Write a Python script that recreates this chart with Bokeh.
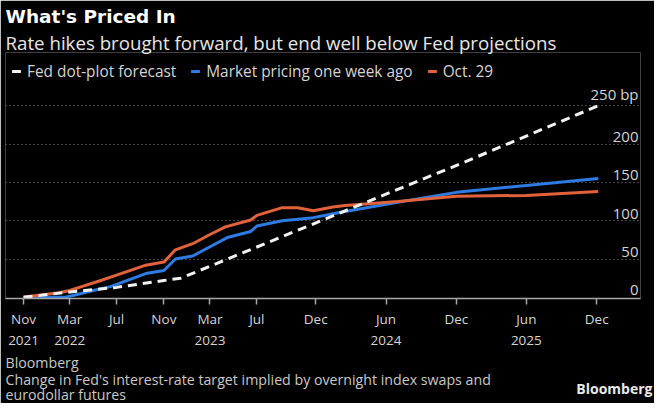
import pandas as pd
from bokeh.plotting import figure
from bokeh.models import (Title, Legend, LegendItem, FixedTicker, Range1d,
                          ColumnDataSource)
from bokeh.core.properties import value
from bokeh.embed import file_html
from bokeh.resources import INLINE

# ---------------- data ----------------
fed_dates = ["2021-11-01", "2022-03-01", "2022-07-01", "2022-11-01", "2022-12-15",
             "2023-12-15", "2024-12-15", "2025-12-05"]
fed_vals = [0, 7, 13, 22, 25, 100, 175, 250]

week_ago_dates = ["2021-11-01", "2022-02-15", "2022-03-15", "2022-05-01", "2022-06-15",
                  "2022-09-15", "2022-11-01", "2022-12-01", "2023-01-15", "2023-03-01",
                  "2023-04-15", "2023-06-15", "2023-07-01", "2023-09-05", "2023-11-25",
                  "2024-01-25", "2024-07-01", "2024-12-01", "2025-06-01", "2025-12-05"]
week_ago_vals = [0, 0, 3, 9, 14, 31, 35, 50, 54, 66, 78, 86, 93, 100, 104,
                 110, 124, 137, 146, 155]

oct29_dates = ["2021-11-01", "2021-12-15", "2022-02-01", "2022-03-01", "2022-04-01",
               "2022-05-15", "2022-07-01", "2022-09-15", "2022-11-01", "2022-12-01",
               "2023-01-15", "2023-03-01", "2023-04-10", "2023-06-15", "2023-07-01",
               "2023-09-05", "2023-10-15", "2023-11-25", "2024-01-15", "2024-02-15",
               "2024-07-01", "2024-12-01", "2025-06-01", "2025-12-05"]
oct29_vals = [0, 3, 6, 9, 14, 21, 29, 42, 46, 62, 70, 82, 92, 101, 107,
              117, 117, 113, 118, 120, 125, 132, 133, 138]

x_tick_dates = ["2021-11-01", "2022-03-01", "2022-07-01", "2022-11-01", "2023-03-01",
                "2023-07-01", "2023-12-01", "2024-06-01", "2024-12-01", "2025-06-01",
                "2025-12-01"]
x_tick_labels = ["Nov\n2021", "Mar\n2022", "Jul", "Nov", "Mar\n2023", "Jul", "Dec",
                 "Jun\n2024", "Dec", "Jun\n2025", "Dec"]

y_ticks = [0, 50, 100, 150, 200, 250]
y_tick_labels = ["0", "50", "100", "150", "200", "250 bp"]

series_names = ["Fed dot-plot forecast", "Market pricing one week ago", "Oct. 29"]

title_text = "What's Priced In"
subtitle_text = "Rate hikes brought forward, but end well below Fed projections"
source_lines = ["Bloomberg",
                "Change in Fed's interest-rate target implied by overnight index swaps and",
                "eurodollar futures"]
logo_text = "Bloomberg"

# ---------------- styling ----------------
FONT = "Open Sans"
TXT = "#d4d4d4"
BLUE = "#2d7be3"
ORANGE = "#e2623b"
WHITE = "#f2f2f2"


def ms(d):
    return int(pd.Timestamp(d).value // 10**6)


x_start = pd.Timestamp("2021-09-15")
x_end = pd.Timestamp("2026-03-25")

p = figure(width=654, height=403, output_backend="svg", toolbar_location=None,
           x_axis_type="datetime",
           x_range=Range1d(x_start, x_end), y_range=Range1d(-1.5, 319.5),
           background_fill_color="black", border_fill_color="black",
           outline_line_color=None, min_border_left=5, min_border_right=14,
           min_border_top=0, min_border_bottom=0)
p.title.visible = False
p.extra_y_ranges = {"icons": Range1d(5000, 6000)}

fed_src = ColumnDataSource(dict(x=pd.to_datetime(fed_dates), y=fed_vals))
wk_src = ColumnDataSource(dict(x=pd.to_datetime(week_ago_dates), y=week_ago_vals))
oc_src = ColumnDataSource(dict(x=pd.to_datetime(oct29_dates), y=oct29_vals))

# lines
p.line("x", "y", source=wk_src, line_color=BLUE, line_width=3)
p.line("x", "y", source=oc_src, line_color=ORANGE, line_width=3)
p.line("x", "y", source=fed_src, line_color=WHITE, line_width=3, line_dash="9 6")

# grid
p.xgrid.visible = False
p.ygrid.ticker = FixedTicker(ticks=y_ticks[1:])
p.ygrid.grid_line_color = "#8a8a8a"
p.ygrid.grid_line_dash = "1 3"
p.ygrid.grid_line_width = 1

# y axis hidden; labels drawn inside the frame above each grid line
p.yaxis.visible = False
ysrc = ColumnDataSource(dict(x=[x_end] * len(y_ticks), y=y_ticks, t=y_tick_labels))
p.text(x="x", y="y", text="t", source=ysrc, text_align="right", text_baseline="bottom",
       x_offset=-2, y_offset=-2, text_color=TXT, text_font_size="15px",
       text_font=value(FONT))

# x axis
tick_ms = [ms(d) for d in x_tick_dates]
p.xaxis.ticker = FixedTicker(ticks=tick_ms)
p.xaxis.major_label_overrides = {t: l for t, l in zip(tick_ms, x_tick_labels)}
p.xaxis.axis_line_color = "#a8a8a8"
p.xaxis.axis_line_width = 1.5
p.xaxis.major_tick_line_color = "#a8a8a8"
p.xaxis.major_tick_line_width = 1.5
p.xaxis.major_tick_in = 0
p.xaxis.major_tick_out = 6
p.xaxis.minor_tick_line_color = None
p.xaxis.major_label_text_color = TXT
p.xaxis.major_label_text_font = FONT
p.xaxis.major_label_text_font_size = "13.5px"
p.xaxis.major_label_standoff = 5

# legend with slash icons: marker renderers mapped onto a range far off the frame
icons = []
for src, col in [(fed_src, WHITE), (wk_src, BLUE), (oc_src, ORANGE)]:
    r = p.scatter("x", "y", source=src, y_range_name="icons",
                  marker="dash", angle=1.05, size=12, line_color=col, line_width=3)
    icons.append(r)
legend = Legend(items=[LegendItem(label=n, renderers=[r]) for n, r in zip(series_names, icons)],
                orientation="horizontal", location="top_left",
                background_fill_alpha=0, border_line_color=None,
                label_text_color=TXT, label_text_font=FONT, label_text_font_size="15.4px",
                glyph_width=22, glyph_height=38, label_standoff=0, spacing=8,
                padding=0, margin=0)
p.add_layout(legend)

p.add_layout(Title(text=subtitle_text, text_color="#e6e6e6", text_font=FONT,
                   text_font_size="18.7px", text_font_style="normal", standoff=-4), "above")
p.add_layout(Title(text=title_text, text_color="#ffffff", text_font="DejaVu Sans",
                   text_font_size="18.5px", text_font_style="bold", standoff=6), "above")

for line in source_lines[:2]:
    p.add_layout(Title(text=line, text_color="#c8c8c8", text_font=FONT,
                       text_font_size="14.2px", text_font_style="normal", standoff=-4),
                 "below")
p.add_layout(Title(text=logo_text, text_color="#e8e8e8", text_font=FONT,
                   text_font_size="14px", text_font_style="bold", align="right",
                   offset=-12, standoff=-22), "below")
p.add_layout(Title(text=source_lines[2], text_color="#c8c8c8", text_font=FONT,
                   text_font_size="14.2px", text_font_style="normal", standoff=-4,
                   vertical_align="top"), "below")

open("out.html", "w").write(file_html(p, INLINE))
